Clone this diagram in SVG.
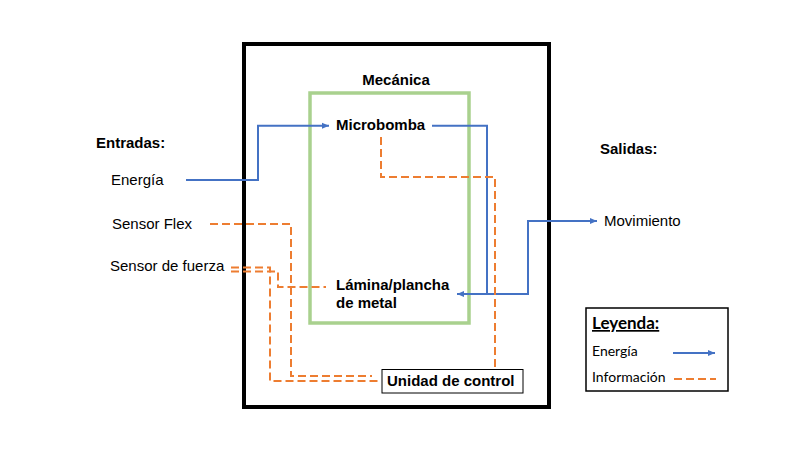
<svg xmlns="http://www.w3.org/2000/svg" width="800" height="450" viewBox="0 0 800 450">
  <defs>
    <marker id="arr" markerUnits="userSpaceOnUse" markerWidth="8" markerHeight="8" viewBox="0 0 8 8" refX="7" refY="4" orient="auto">
      <path d="M0,1 L7,4 L0,7 Z" fill="#4472C4"/>
    </marker>
    <style>
      .t { font-family: "Liberation Sans", Arial, sans-serif; fill: #000; }
      .b { font-weight: bold; font-size: 15px; }
      .r { font-size: 15px; }
      .lg { font-family: Lato, "Liberation Sans", sans-serif; font-size: 14px; fill: #000; }
      .lgh { font-weight: bold; font-size: 17px; text-decoration: underline; }
      .energy { fill: none; stroke: #4472C4; stroke-width: 2; }
      .info { fill: none; stroke: #ED7D31; stroke-width: 2; stroke-dasharray: 8 4; }
    </style>
  </defs>
  <rect width="800" height="450" fill="#fff"/>

  <g id="sistema">
    <rect x="244" y="44" width="305" height="363" fill="none" stroke="#000" stroke-width="4"/>
  </g>

  <g id="mecanica">
    <rect x="310" y="93" width="159" height="230" fill="none" stroke="#A9D18E" stroke-width="3.5"/>
    <text class="t b" x="396" y="85" text-anchor="middle">Mecánica</text>
  </g>

  <g id="microbomba">
    <text class="t b" x="336" y="130">Microbomba</text>
  </g>

  <g id="lamina">
    <text class="t b" x="336" y="290">Lámina/plancha</text>
    <text class="t b" x="336" y="308">de metal</text>
  </g>

  <g id="unidad-control">
    <rect x="382" y="369.5" width="141" height="23.5" fill="#fff" stroke="#000" stroke-width="1"/>
    <text class="t b" x="387" y="386">Unidad de control</text>
  </g>

  <g id="entradas">
    <text class="t b" x="96" y="148">Entradas:</text>
    <text class="t r" x="111" y="185">Energía</text>
    <text class="t r" x="112" y="229">Sensor Flex</text>
    <text class="t r" x="110" y="271">Sensor de fuerza</text>
  </g>

  <g id="salidas">
    <text class="t b" x="600" y="154">Salidas:</text>
    <text class="t r" x="604" y="226">Movimiento</text>
  </g>

  <g id="connectors">
    <path class="energy" d="M186,180 H258 V125.7 H329" marker-end="url(#arr)"/>
    <path class="energy" d="M432,125.7 H487 V294 H457" marker-end="url(#arr)"/>
    <path class="energy" d="M487,294 H528 V221 H597" marker-end="url(#arr)"/>
    <path class="info" d="M381,137 V177 H495 V369"/>
    <path class="info" d="M210,224 H291 V376 H372"/>
    <path class="info" d="M231,267.5 H270 V381 H381"/>
    <path class="info" d="M231,271.5 H278 V287 H326"/>
  </g>

  <g id="leyenda">
    <rect x="586" y="308" width="142" height="83" fill="#fff" stroke="#000" stroke-width="1.5"/>
    <text class="lg lgh" x="592" y="329">Leyenda:</text>
    <text class="lg" x="592" y="356">Energía</text>
    <text class="lg" x="592" y="382">Información</text>
    <line class="energy" x1="673" y1="353" x2="715" y2="353" marker-end="url(#arr)"/>
    <line class="info" x1="674" y1="379" x2="716" y2="379"/>
  </g>
</svg>
